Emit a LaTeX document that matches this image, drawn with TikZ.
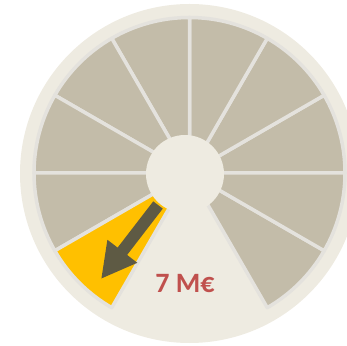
\documentclass[tikz,border=0pt]{standalone}
\usepackage{fontspec}
\setmainfont{Carlito}
\usetikzlibrary{arrows.meta}
\definecolor{bgbeige}{HTML}{EEEBE1}
\definecolor{wedgegrey}{HTML}{C3BCA9}
\definecolor{sepgrey}{HTML}{E4E2DD}
\definecolor{gold}{HTML}{FFC000}
\definecolor{olive}{HTML}{5E5A44}
\definecolor{valred}{HTML}{C0504D}
\tikzset{
  wedge/.style={fill=wedgegrey, draw=sepgrey, line width=3.5pt, line join=round},
  hotwedge/.style={fill=gold, draw=sepgrey, line width=3.5pt, line join=round},
  pointer/.style={draw=olive, line width=12pt, -{Triangle[width=35pt,length=35pt]}},
  valtext/.style={text=valred, font=\bfseries\fontsize{28}{30}\selectfont}
}
\begin{document}
\begin{tikzpicture}[x=1pt,y=1pt]
\useasboundingbox (0,0) rectangle (347,345);
\clip (0,0) rectangle (347,345);
\coordinate (C) at (189.5,172);
\fill[bgbeige] (189.5,171.5) circle (169.5);
\foreach \a in {0,30,...,180,300,330} {
  \draw[wedge] (C) -- ++(\a:155.5) arc (\a:\a+30:155.5) -- cycle;
}
\draw[hotwedge] (C) -- ++(210:155.5) arc (210:240:155.5) -- cycle;
\coordinate (arrowstart) at (158,140);
\coordinate (arrowtip) at (101,66);
\draw[pointer] (arrowstart) -- (arrowtip);
\node[circle, fill=bgbeige, minimum size=78pt, inner sep=0pt] (hub) at (185,171) {};
\node[valtext] (value) at (185,61) {7 M€};
\end{tikzpicture}
\end{document}
